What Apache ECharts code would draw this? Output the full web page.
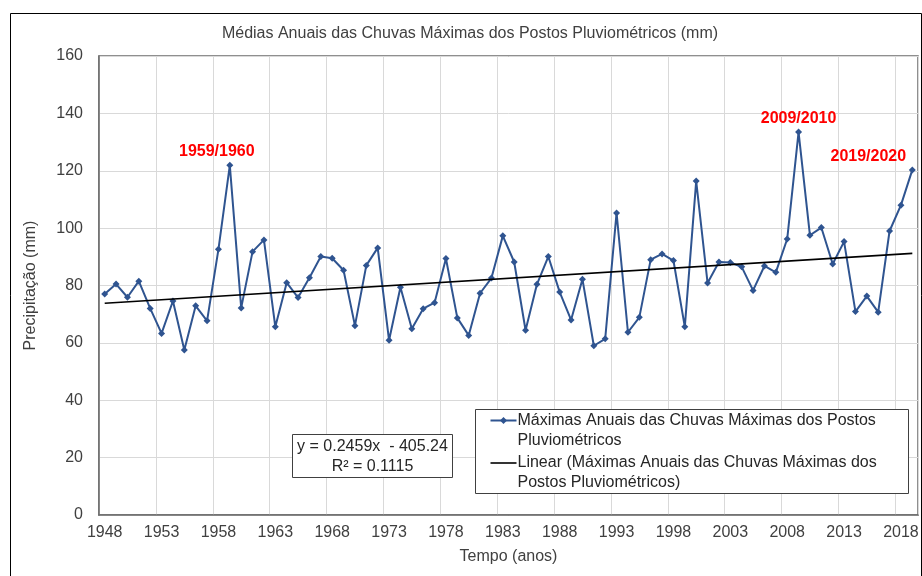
<!DOCTYPE html>
<html>
<head>
<meta charset="utf-8">
<script src="https://cdn.jsdelivr.net/npm/echarts@6/dist/echarts.min.js"></script>
<style>html,body{margin:0;padding:0;background:#fff}#c{width:922px;height:576px}</style>
</head>
<body>
<div id="c"></div>
<script>
// ---- data ----
const years = [];
for (let y = 1948; y <= 2019; y++) years.push(String(y));
const maxRain = [
  77.0, 80.5, 75.9, 81.5, 72.0, 63.3, 74.6, 57.5, 72.9, 67.7,
  92.6, 121.9, 72.2, 91.8, 95.9, 65.6, 81.0, 75.8, 82.7, 90.1,
  89.5, 85.3, 66.0, 87.0, 93.1, 60.9, 79.4, 64.9, 71.9, 74.0,
  89.4, 68.7, 62.6, 77.3, 82.6, 97.3, 88.2, 64.4, 80.4, 90.1,
  77.7, 68.0, 82.2, 59.0, 61.4, 105.3, 63.7, 68.9, 89.0, 91.0,
  88.7, 65.6, 116.4, 80.9, 88.2, 88.0, 86.5, 78.3, 86.8, 84.6,
  96.2, 133.5, 97.5, 100.2, 87.5, 95.3, 70.9, 76.3, 70.7, 99.0,
  108.0, 120.3
];
const trendEnds = [73.8, 91.2];
const annotationIndex = [11, 61, 71];
const annotationText = ['1959/1960', '2009/2010', '2019/2020'];
const titleText = 'Médias Anuais das Chuvas Máximas dos Postos Pluviométricos (mm)';
const seriesName = 'Máximas Anuais das Chuvas Máximas dos Postos Pluviométricos';
const trendName = 'Linear (Máximas Anuais das Chuvas Máximas dos Postos Pluviométricos)';
const equationLines = ['y = 0.2459x  - 405.24', 'R² = 0.1115'];
const legendLines1 = ['Máximas Anuais das Chuvas Máximas dos Postos', 'Pluviométricos'];
const legendLines2 = ['Linear (Máximas Anuais das Chuvas Máximas dos', 'Postos Pluviométricos)'];

// ---- chart ----
const FONT = '"Liberation Sans", Arial, sans-serif';
const TXT = '#404040';
const BLUE = '#2F5490';
const labelOffsets = [[-13, 0], [0, 0], [-44, 0]];

const seriesData = maxRain.map((v, i) => {
  const k = annotationIndex.indexOf(i);
  if (k < 0) return v;
  return {
    value: v,
    label: {
      show: true, position: 'top', distance: 2, offset: labelOffsets[k],
      formatter: annotationText[k], color: '#FF0000', fontWeight: 'bold',
      fontSize: 16, fontFamily: FONT
    }
  };
});
const trendData = maxRain.map((v, i) => i === 0 ? trendEnds[0] : (i === maxRain.length - 1 ? trendEnds[1] : null));

const ZB = 120;
function txt(x, y, s, align) {
  return {type: 'text', x: x, y: y, z: ZB + 1,
    style: {text: s, textAlign: align || 'left', textVerticalAlign: 'middle', fontSize: 16, fill: '#262626', fontFamily: FONT}};
}

const chart = echarts.init(document.getElementById('c'), null, {renderer: 'canvas'});
chart.setOption({
  animation: false,
  backgroundColor: '#fff',
  textStyle: {fontFamily: FONT},
  title: {
    text: titleText, left: 465, top: 21, textAlign: 'center',
    textStyle: {fontSize: 16, fontWeight: 'normal', color: TXT, fontFamily: FONT}
  },
  grid: {
    left: 99, right: 4, top: 56, bottom: 61, containLabel: false,
    show: true, borderColor: '#6b6b6b', borderWidth: 1.5, backgroundColor: 'transparent'
  },
  xAxis: {
    type: 'category', data: years, boundaryGap: true,
    name: 'Tempo (anos)', nameLocation: 'middle', nameGap: 34,
    nameTextStyle: {fontSize: 16, color: TXT, fontFamily: FONT},
    axisLine: {show: true, lineStyle: {color: '#6b6b6b', width: 1.5}},
    axisTick: {show: false},
    axisLabel: {interval: 4, fontSize: 16, color: TXT, margin: 10, fontFamily: FONT},
    splitLine: {show: true, interval: 4, lineStyle: {color: '#d9d9d9', width: 1}}
  },
  yAxis: {
    type: 'value', min: 0, max: 160, interval: 20,
    name: 'Precipitação (mm)', nameLocation: 'middle', nameGap: 60,
    nameTextStyle: {fontSize: 16, color: TXT, fontFamily: FONT},
    axisLine: {show: true, lineStyle: {color: '#6b6b6b', width: 1.5}},
    axisTick: {show: false},
    axisLabel: {fontSize: 16, color: TXT, margin: 16, fontFamily: FONT},
    splitLine: {show: true, lineStyle: {color: '#d9d9d9', width: 1}}
  },
  series: [
    {
      name: seriesName, type: 'line', data: seriesData,
      symbol: 'diamond', symbolSize: 7, showSymbol: true,
      lineStyle: {color: BLUE, width: 2}, itemStyle: {color: BLUE},
      z: 3
    },
    {
      name: trendName, type: 'line', data: trendData, connectNulls: true,
      symbol: 'none', lineStyle: {color: '#000', width: 1.6}, z: 4
    }
  ],
  graphic: [
    {type: 'rect', left: 8, top: 11, shape: {width: 911, height: 620}, silent: true,
     style: {fill: 'none', stroke: '#000', lineWidth: 1}, z: 100},
    // equation box
    {type: 'group', left: 292, top: 434, z: ZB, children: [
      {type: 'rect', z: ZB, shape: {x: 0, y: 0, width: 160, height: 43},
       style: {fill: '#fff', stroke: '#404040', lineWidth: 1}},
      txt(80, 12.5, equationLines[0], 'center'),
      txt(80, 32.5, equationLines[1], 'center')
    ]},
    // legend box
    {type: 'group', left: 475, top: 409, z: ZB, children: [
      {type: 'rect', z: ZB, shape: {x: 0, y: 0, width: 433, height: 84},
       style: {fill: '#fff', stroke: '#404040', lineWidth: 1}},
      {type: 'line', z: ZB + 1, shape: {x1: 15, y1: 11, x2: 41, y2: 11}, style: {stroke: BLUE, lineWidth: 2}},
      {type: 'polygon', z: ZB + 2, shape: {points: [[28, 7.5], [31.5, 11], [28, 14.5], [24.5, 11]]}, style: {fill: BLUE}},
      txt(42, 11, legendLines1[0]),
      txt(42, 31, legendLines1[1]),
      {type: 'line', z: ZB + 1, shape: {x1: 15, y1: 53.5, x2: 41, y2: 53.5}, style: {stroke: '#000', lineWidth: 1.6}},
      txt(42, 53.5, legendLines2[0]),
      txt(42, 73, legendLines2[1])
    ]}
  ]
});
</script>
</body>
</html>
